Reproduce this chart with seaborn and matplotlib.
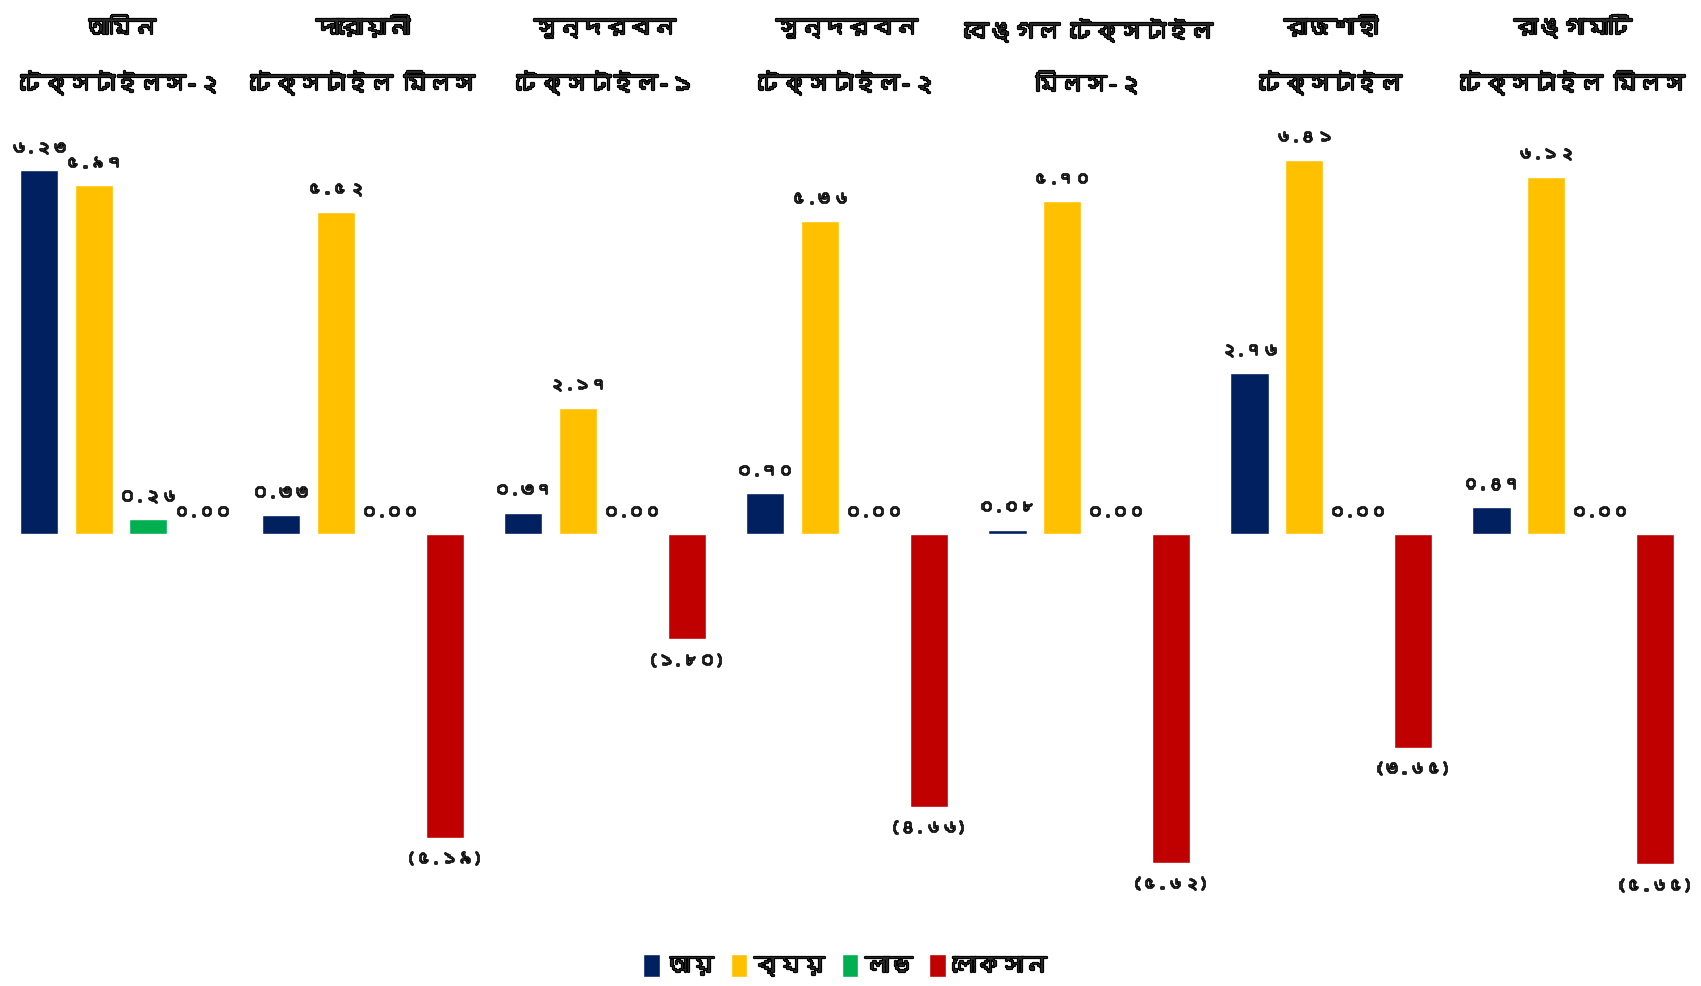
import matplotlib
matplotlib.use("Agg")
import matplotlib.pyplot as plt
import matplotlib.patheffects as pe
from matplotlib import font_manager, ft2font
import numpy as np
import pandas as pd
import seaborn as sns

# data (crore taka)
mills = ["আমিন\nটেক্সটাইলস-২", "দারোয়ানী\nটেক্সটাইল মিলস", "সুন্দরবন\nটেক্সটাইল-১",
         "সুন্দরবন\nটেক্সটাইল-২", "বেঙ্গল টেক্সটাইল\nমিলস-২", "রাজশাহী\nটেক্সটাইল",
         "রাঙ্গামাটি\nটেক্সটাইল মিলস"]
series = ["আয়", "ব্যয়", "লাভ", "লোকসান"]
income = [6.23, 0.33, 0.37, 0.70, 0.08, 2.76, 0.47]
expense = [5.97, 5.52, 2.17, 5.36, 5.70, 6.41, 6.12]
profit = [0.26, 0.00, 0.00, 0.00, 0.00, 0.00, 0.00]
loss = [0.00, -5.19, -1.80, -4.66, -5.62, -3.65, -5.65]
colors = ["#002060", "#FFC000", "#00B050", "#C00000"]


def find_bengali_font():
    for f in font_manager.fontManager.ttflist:
        try:
            if 0x0986 in ft2font.FT2Font(f.fname).get_charmap():
                return f.name
        except Exception:
            continue
    return None


sns.set_style("white")
bn_font = find_bengali_font()
fams = [bn_font, "DejaVu Sans"] if bn_font else ["DejaVu Sans"]
plt.rcParams["font.family"] = fams

df = pd.DataFrame({"mill": mills, series[0]: income, series[1]: expense,
                   series[2]: profit, series[3]: loss})
df = df.melt(id_vars="mill", var_name="type", value_name="value")

bn_digits = str.maketrans("0123456789", "০১২৩৪৫৬৭৮৯")


def fmt(v):
    s = f"{abs(v):.2f}".translate(bn_digits)
    return f"({s})" if v < 0 else s


# the font has no bold face, so thicken strokes
heavy = [pe.withStroke(linewidth=1.6, foreground="black")]

fig = plt.figure(figsize=(17.01, 9.86), dpi=100)
ax = fig.add_axes([0.0, 0.067, 0.996, 0.80])

sns.barplot(data=df, x="mill", y="value", hue="type", hue_order=series,
            palette=colors, saturation=1, width=0.9, gap=0.3,
            errorbar=None, ax=ax)

for cont, name in zip(ax.containers, series):
    vals = df[df["type"] == name]["value"].values
    txts = ax.bar_label(cont, labels=[fmt(v) for v in vals], padding=11,
                        fontsize=12, fontweight="bold")
    for t in txts:
        t.set_path_effects([pe.withStroke(linewidth=1.2, foreground="black")])

ax.set_ylim(-6.6, 6.9)
ax.set_xlim(-0.5, 6.5)
ax.xaxis.tick_top()
ax.tick_params(axis="x", length=0, pad=26, labelsize=17)
for lbl in ax.get_xticklabels():
    lbl.set_fontweight("bold")
    lbl.set_linespacing(2.5)
    lbl.set_path_effects(heavy)
ax.set_yticks([])
ax.set_xlabel("")
ax.set_ylabel("")
sns.despine(ax=ax, left=True, bottom=True, top=True, right=True)

leg = ax.legend(loc="lower center", bbox_to_anchor=(0.497, -0.012), bbox_transform=fig.transFigure,
                ncol=4, frameon=False, handlelength=0.7, handleheight=1.1,
                handletextpad=0.3, columnspacing=0.7, prop={"weight": "bold", "size": 17})
for t in leg.get_texts():
    t.set_path_effects(heavy)

fig.savefig("out.png", dpi=100)
